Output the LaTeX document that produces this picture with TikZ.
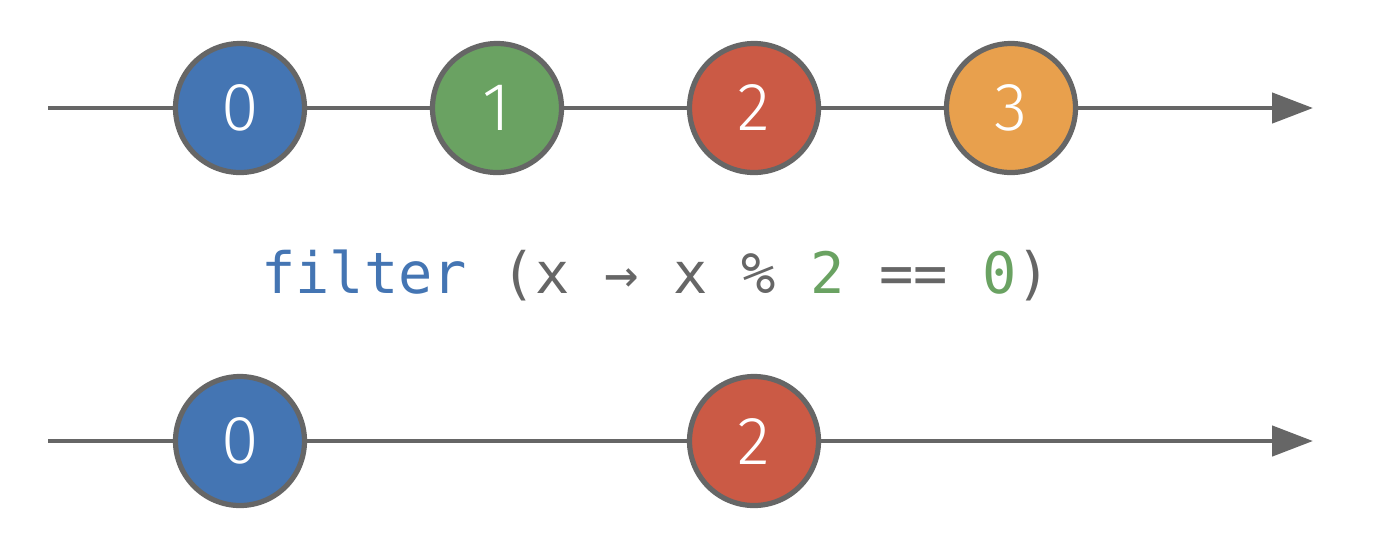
\documentclass[tikz,border=0pt]{standalone}
\usepackage{fontspec}
\setmainfont{Open Sans}
\newfontfamily\marblefont{Fira Sans Light}
\newfontfamily\codefont{DejaVu Sans Mono}
\usepackage{tikz}
\usetikzlibrary{arrows.meta}

\definecolor{mblue}{HTML}{4475B3}
\definecolor{mgreen}{HTML}{6AA262}
\definecolor{mred}{HTML}{CB5A45}
\definecolor{morange}{HTML}{E8A04D}
\definecolor{mgray}{HTML}{666666}

\tikzset{
    marble/.style={draw=mgray, line width=2.6pt, circle, minimum size=64.5pt, inner sep=0pt,
        text=white, font=\marblefont\fontsize{34}{34}\selectfont},
    timeline/.style={draw=mgray, line width=2.3pt, -{Triangle[length=20.5pt, width=15pt]}}
}

\begin{document}
\begin{tikzpicture}[x=0.5pt, y=-0.5pt]
        \useasboundingbox (0, 0) rectangle (1374, 538);

        % input stream
        \coordinate (in start) at (48, 108);
        \coordinate (in end) at (1313, 108);
        \draw[timeline] (in start) -- (in end);

        \node[marble, fill=mblue] at (240, 108) (a0) {0};
        \node[marble, fill=mgreen] at (497, 108) (a1) {1};
        \node[marble, fill=mred] at (754, 108) (a2) {2};
        \node[marble, fill=morange] at (1011, 108) (a3) {3};

        % operator
        \node[text=mgray, font=\codefont\fontsize{28.5}{28.5}\selectfont] at (656, 275) (op)
            {{\color{mblue}filter} (x → x \% {\color{mgreen}2} == {\color{mgreen}0})};

        % output stream
        \coordinate (out start) at (48, 441);
        \coordinate (out end) at (1313, 441);
        \draw[timeline] (out start) -- (out end);

        \node[marble, fill=mblue] at (240, 441) (b0) {0};
        \node[marble, fill=mred] at (754, 441) (b2) {2};
    \end{tikzpicture}
\end{document}
